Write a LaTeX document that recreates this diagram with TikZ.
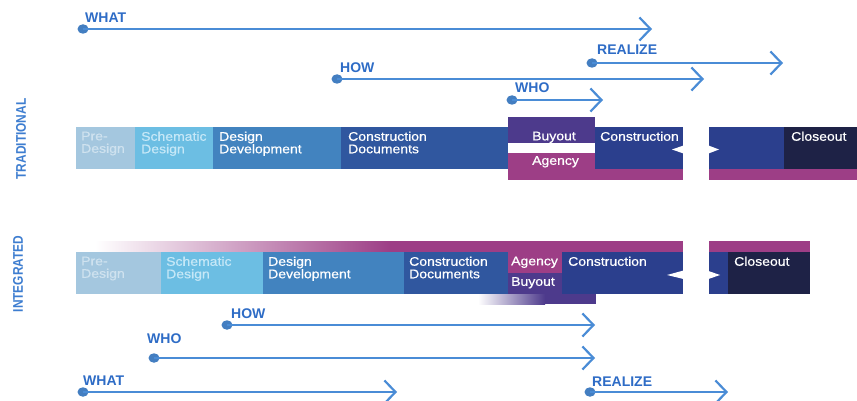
\documentclass[tikz,border=0pt]{standalone}
\usepackage{fontspec}
\setmainfont{Liberation Sans}
\newfontfamily\boxfont[FakeStretch=1.12,FakeBold=0.6]{Liberation Sans}
\newfontfamily\vfont[FakeStretch=0.85]{Liberation Sans}
\usetikzlibrary{arrows.meta}
\definecolor{arrowc}{HTML}{4A8CD6}
\definecolor{labc}{HTML}{2E6CC6}
\definecolor{vlabc}{HTML}{3D7DD0}
\definecolor{pre}{HTML}{A4C7DF}
\definecolor{sch}{HTML}{6CBEE3}
\definecolor{dd}{HTML}{4283BF}
\definecolor{cd}{HTML}{30579F}
\definecolor{con}{HTML}{2B3F8D}
\definecolor{clo}{HTML}{1E2246}
\definecolor{buy}{HTML}{4D3A8C}
\definecolor{agy}{HTML}{9D3E86}
\definecolor{pretxt}{HTML}{CFE2EF}
\definecolor{schtxt}{HTML}{C6E8F7}
\tikzset{
  bx/.style={anchor=north west, inner sep=0pt, outer sep=0pt, draw=none},
  txt/.style={anchor=north west, inner sep=0pt, align=left, text=white,
    font=\boxfont\fontsize{12.5}{12.5}\selectfont},
  lab/.style={anchor=base west, inner sep=0pt, text=labc,
    font=\bfseries\fontsize{14}{14}\selectfont},
  vlab/.style={rotate=90, inner sep=0pt, text=vlabc,
    font=\vfont\bfseries\fontsize{14}{14}\selectfont},
  dot/.style={ellipse, fill=arrowc!90!black, minimum width=11pt, minimum height=9.5pt, inner sep=0pt},
  arr/.style={draw=arrowc, line width=2pt,
    -{Straight Barb[length=11pt,width=23pt,line width=2.2pt]}},
  notch/.style={fill=white, draw=none}
}
\usetikzlibrary{shapes.geometric}
\begin{document}
\begin{tikzpicture}[x=1pt,y=-1pt]
\useasboundingbox[fill=white] (0,0) rectangle (857,401);

% ---------- side labels ----------
\node[vlab] (trad) at (21,139) {TRADITIONAL};
\node[vlab] (integ) at (18,274) {INTEGRATED};

% ---------- top arrows ----------
\node[dot] (dwhat1) at (83,29) {};
\coordinate (ewhat1) at (652,29);
\draw[arr] (dwhat1.center) -- (ewhat1);
\node[lab] (lwhat1) at (85,22.7) {WHAT};

\node[dot] (dreal1) at (592,63) {};
\coordinate (ereal1) at (783,63);
\draw[arr] (dreal1.center) -- (ereal1);
\node[lab] (lreal1) at (597,55) {REALIZE};

\node[dot] (dhow1) at (337,79) {};
\coordinate (ehow1) at (704,79);
\draw[arr] (dhow1.center) -- (ehow1);
\node[lab] (lhow1) at (340,72.7) {HOW};

\node[dot] (dwho1) at (512,100) {};
\coordinate (ewho1) at (603,100);
\draw[arr] (dwho1.center) -- (ewho1);
\node[lab] (lwho1) at (515,92.7) {WHO};

% ---------- traditional bar ----------
\node[bx, fill=pre, minimum width=59pt, minimum height=42pt] (tpre) at (76,127) {};
\node[bx, fill=sch, minimum width=78pt, minimum height=42pt] (tsch) at (135,127) {};
\node[bx, fill=dd, minimum width=128pt, minimum height=42pt] (tdd) at (213,127) {};
\node[bx, fill=cd, minimum width=167pt, minimum height=42pt] (tcd) at (341,127) {};
\node[bx, fill=buy, minimum width=87pt, minimum height=26pt] (tbuy) at (508,117) {};
\node[bx, fill=agy, minimum width=87pt, minimum height=27pt] (tagy) at (508,153) {};
\node[bx, fill=con, minimum width=88pt, minimum height=42pt] (tcon) at (595,127) {};
\node[bx, fill=agy, minimum width=88pt, minimum height=11pt] (tmag1) at (595,169) {};
\node[bx, fill=con, minimum width=75pt, minimum height=42pt] (tcon2) at (709,127) {};
\node[bx, fill=clo, minimum width=73pt, minimum height=42pt] (tclo) at (784,127) {};
\node[bx, fill=agy, minimum width=148pt, minimum height=11pt] (tmag2) at (709,169) {};
\fill[notch] (683.5,145.5) -- (672,149.5) -- (683.5,153.5) -- cycle;
\fill[notch] (708.5,145.5) -- (719,149.5) -- (708.5,153.5) -- cycle;

\node[txt, text=pretxt] (ttpre) at (81,131.5) {Pre-\\Design};
\node[txt, text=schtxt] (ttsch) at (141,131.5) {Schematic\\Design};
\node[txt] (ttdd) at (219,131.5) {Design\\Development};
\node[txt] (ttcd) at (348,131.5) {Construction\\Documents};
\node[txt] (ttbuy) at (532,131.5) {Buyout};
\node[txt] (ttagy) at (532,156) {Agency};
\node[txt] (ttcon) at (600,131.5) {Construction};
\node[txt] (ttclo) at (791,131.5) {Closeout};

% ---------- integrated bar ----------
\shade[left color=white, right color=agy] (95,241) rectangle (390,252);
\fill[agy] (389.5,241) rectangle (683,252);
\fill[agy] (709,241) rectangle (810,252);
\shade[left color=white, right color=buy] (478,294) rectangle (545,304);
\fill[buy] (544.5,294) rectangle (596,304);

\node[bx, fill=pre, minimum width=85pt, minimum height=42pt] (ipre) at (76,252) {};
\node[bx, fill=sch, minimum width=102pt, minimum height=42pt] (isch) at (161,252) {};
\node[bx, fill=dd, minimum width=141pt, minimum height=42pt] (idd) at (263,252) {};
\node[bx, fill=cd, minimum width=104pt, minimum height=42pt] (icd) at (404,252) {};
\node[bx, fill=agy, minimum width=54pt, minimum height=21pt] (iagy) at (508,252) {};
\node[bx, fill=buy, minimum width=54pt, minimum height=21pt] (ibuy) at (508,273) {};
\node[bx, fill=con, minimum width=121pt, minimum height=42pt] (icon) at (562,252) {};
\node[bx, fill=con, minimum width=19pt, minimum height=42pt] (icon2) at (709,252) {};
\node[bx, fill=clo, minimum width=82pt, minimum height=42pt] (iclo) at (728,252) {};
\fill[notch] (683.5,270.5) -- (667,275) -- (683.5,279) -- cycle;
\fill[notch] (708.5,271) -- (720,275) -- (708.5,279) -- cycle;

\node[txt, text=pretxt] (itpre) at (81,256.5) {Pre-\\Design};
\node[txt, text=schtxt] (itsch) at (166,256.5) {Schematic\\Design};
\node[txt] (itdd) at (268,256.5) {Design\\Development};
\node[txt] (itcd) at (409,256.5) {Construction\\Documents};
\node[txt] (itagy) at (511,256.5) {Agency};
\node[txt] (itbuy) at (511,277) {Buyout};
\node[txt] (itcon) at (568,256.5) {Construction};
\node[txt] (itclo) at (734,256.5) {Closeout};

% ---------- bottom arrows ----------
\node[dot] (dhow2) at (227,325) {};
\coordinate (ehow2) at (595,325);
\draw[arr] (dhow2.center) -- (ehow2);
\node[lab] (lhow2) at (231,318) {HOW};

\node[dot] (dwho2) at (154,358) {};
\coordinate (ewho2) at (595,358);
\draw[arr] (dwho2.center) -- (ewho2);
\node[lab] (lwho2) at (147,343) {WHO};

\node[dot] (dwhat2) at (83,392) {};
\coordinate (ewhat2) at (397,392);
\draw[arr] (dwhat2.center) -- (ewhat2);
\node[lab] (lwhat2) at (83,385) {WHAT};

\node[dot] (dreal2) at (590,392) {};
\coordinate (ereal2) at (728,392);
\draw[arr] (dreal2.center) -- (ereal2);
\node[lab] (lreal2) at (592,386) {REALIZE};
\end{tikzpicture}
\end{document}
